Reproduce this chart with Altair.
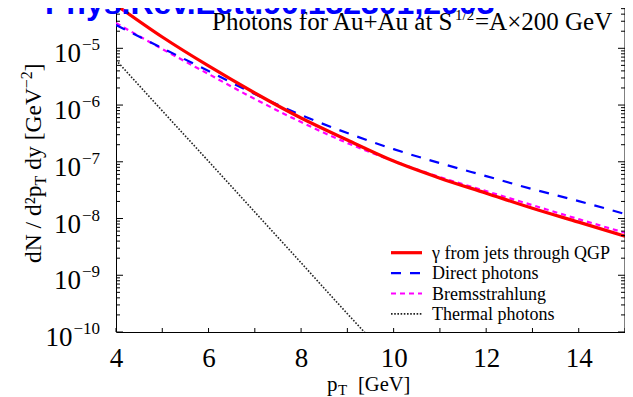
import altair as alt
import pandas as pd

# ---------------- data ----------------
pt = [4, 5, 6, 7, 8, 9, 10, 11, 12, 13, 14, 15]
jets_qgp = [5.81e-5, 1.58e-5, 4.88e-6, 1.63e-6, 5.91e-7, 2.42e-7, 1.03e-7,
            5.15e-8, 2.80e-8, 1.52e-8, 8.63e-9, 4.89e-9]
direct = [2.58e-5, 1.01e-5, 3.97e-6, 1.56e-6, 6.67e-7, 3.21e-7, 1.67e-7,
          9.48e-8, 5.59e-8, 3.30e-8, 2.03e-8, 1.20e-8]
brems = [2.79e-5, 9.72e-6, 3.52e-6, 1.28e-6, 5.01e-7, 2.14e-7, 1.03e-7,
         5.37e-8, 3.04e-8, 1.72e-8, 9.75e-9, 5.60e-9]
pt_thermal = [4, 5, 6, 7, 8, 9, 10]
thermal = [6.2e-6, 7.9e-7, 1.02e-7, 1.3e-8, 1.66e-9, 2.1e-10, 2.8e-11]

series_names = ["γ from jets through QGP", "Direct photons",
                "Bremsstrahlung", "Thermal photons"]
x_tick_labels = [4, 6, 8, 10, 12, 14]
x_ticks = [4, 5, 6, 7, 8, 9, 10, 11, 12, 13, 14, 15]
y_exponents = [-10, -9, -8, -7, -6, -5]

# ---------------- layout / style ----------------
W, H = 509, 324
YTOP = 5.134e-5
SERIF = "Liberation Serif"
SANS = "Liberation Sans"

y_minor = [m * 10.0 ** k for k in y_exponents for m in range(2, 10) if m * 10.0 ** k <= YTOP]
y_major = [10.0 ** k for k in y_exponents]

xscale = alt.Scale(domain=[4, 15], nice=False, zero=False)
yscale = alt.Scale(type="log", domain=[1e-10, YTOP], nice=False)

rows = []
for name, xs, ys in [(series_names[0], pt, jets_qgp), (series_names[1], pt, direct),
                     (series_names[2], pt, brems), (series_names[3], pt_thermal, thermal)]:
    for a, b in zip(xs, ys):
        rows.append({"series": name, "pt": a, "value": b})
df = pd.DataFrame(rows)

styles = {
    series_names[0]: dict(color="#ff0000", strokeWidth=3.2),
    series_names[1]: dict(color="#0000ff", strokeWidth=2.2, strokeDash=[10, 9]),
    series_names[2]: dict(color="#ff00ff", strokeWidth=2.2, strokeDash=[5, 4]),
    series_names[3]: dict(color="#222222", strokeWidth=1.6, strokeDash=[1.6, 1.6]),
}

xaxis = alt.Axis(values=x_tick_labels, labelFont=SERIF, labelFontSize=27, labelColor="black",
                 labelPadding=13, ticks=False, grid=False, domain=True, domainColor="black",
                 domainWidth=1, title=None, labelFlush=False, format="d")
yaxis = alt.Axis(labels=False, ticks=False, grid=False, domain=True, domainColor="black",
                 domainWidth=1, title=None)

layers = []

# curves
for name in [series_names[3], series_names[2], series_names[1], series_names[0]]:
    layers.append(
        alt.Chart(df).transform_filter(alt.datum.series == name)
        .mark_line(clip=True, interpolate="monotone", **styles[name])
        .encode(x=alt.X("pt:Q", scale=xscale, axis=xaxis),
                y=alt.Y("value:Q", scale=yscale, axis=yaxis))
    )

# right frame
layers.append(
    alt.Chart(pd.DataFrame({"a": [0]})).mark_rule(color="black", strokeWidth=1)
    .encode(x=alt.value(W), y=alt.value(0), y2=alt.value(H))
)

# y ticks (inward, both sides)
ymaj = pd.DataFrame({"v": y_major})
ymin = pd.DataFrame({"v": y_minor})
for data, x0, x1 in [(ymaj, 0, 7), (ymaj, W, W - 7), (ymin, 0, 4), (ymin, W, W - 4)]:
    layers.append(
        alt.Chart(data).mark_rule(color="black", strokeWidth=1, clip=True)
        .encode(y=alt.Y("v:Q", scale=yscale, axis=yaxis), x=alt.value(x0), x2=alt.value(x1))
    )

# x ticks (inward)
layers.append(
    alt.Chart(pd.DataFrame({"t": x_ticks})).mark_rule(color="black", strokeWidth=1)
    .encode(x=alt.X("t:Q", scale=xscale, axis=xaxis), y=alt.value(H), y2=alt.value(H - 4))
)

# y tick labels 10^k
ylab = (alt.Chart(pd.DataFrame({"exp": y_exponents}))
        .transform_calculate(val="pow(10, datum.exp)",
                             sup="'\u2212' + toString(-datum.exp)",
                             xoff="-17 - 17*(0.564 + 0.5*length(toString(-datum.exp)))"))
layers.append(
    ylab.mark_text(align="right", baseline="alphabetic", dy=14, font=SERIF, fontSize=27, color="black")
    .encode(x=alt.X("xoff:Q", scale=None), y=alt.Y("val:Q", scale=yscale, axis=yaxis), text=alt.value("10"))
)
layers.append(
    ylab.mark_text(align="right", baseline="alphabetic", dy=2, font=SERIF, fontSize=17, color="black")
    .encode(x=alt.value(-16), y=alt.Y("val:Q", scale=yscale, axis=yaxis), text="sup:N")
)

# legend
leg = pd.DataFrame({"series": series_names, "rank": list(range(len(series_names)))})
for name in series_names:
    st = dict(styles[name])
    layers.append(
        alt.Chart(leg).transform_filter(alt.datum.series == name)
        .transform_calculate(ly="244.7 + 20.4*datum.rank")
        .mark_rule(**st)
        .encode(x=alt.value(275), x2=alt.value(306), y=alt.Y("ly:Q", scale=None))
    )
layers.append(
    alt.Chart(leg).transform_calculate(ly="244.7 + 20.4*datum.rank")
    .mark_text(align="left", baseline="middle", dy=1, font=SERIF, fontSize=18, color="black")
    .encode(x=alt.value(316), y=alt.Y("ly:Q", scale=None), text="series:N")
)


def label(txt, x, y, size, font=SERIF, align="left", angle=0, color="black", weight="normal"):
    return (alt.Chart(pd.DataFrame({"t": [txt]}))
            .mark_text(align=align, baseline="alphabetic", font=font, fontSize=size,
                       angle=angle, color=color, fontWeight=weight)
            .encode(x=alt.value(x), y=alt.value(y), text="t:N"))


# plot title
layers.append(label("Photons for Au+Au at S", 96, 21.5, 25))
layers.append(label("1/2", 339, 11.5, 15))
layers.append(label("=A\u00d7200 GeV", 359, 21.5, 25))

# x-axis title
layers.append(label("p", 211, 383, 21))
layers.append(label("T", 222, 387, 15))
layers.append(label("[GeV]", 242, 383, 20.5))

# y-axis title (rotated)
layers.append(label("dN / d\u00b2p", -75, 255, 23.5, angle=270))
layers.append(label("T", -70, 177.4, 16, angle=270))
layers.append(label("dy [GeV", -75, 161.7, 23.5, angle=270))
layers.append(label("\u22122", -84, 80.2, 16, angle=270))
layers.append(label("]", -75, 63.2, 23.5, angle=270))

# reference banner
layers.append(label("Phys.Rev.Lett.90.132301,2003", -71, 5.5, 32, font=SANS,
                    color="#0000ff", weight="bold"))

chart = (alt.layer(*layers)
         .properties(width=W, height=H,
                     autosize=alt.AutoSizeParams(type="none"),
                     padding={"left": 108, "top": 0, "right": 0, "bottom": 65})
         .configure(background="white")
         .configure_view(stroke=None))

chart.save("out.html", embed_options={"renderer": "svg", "actions": False})
